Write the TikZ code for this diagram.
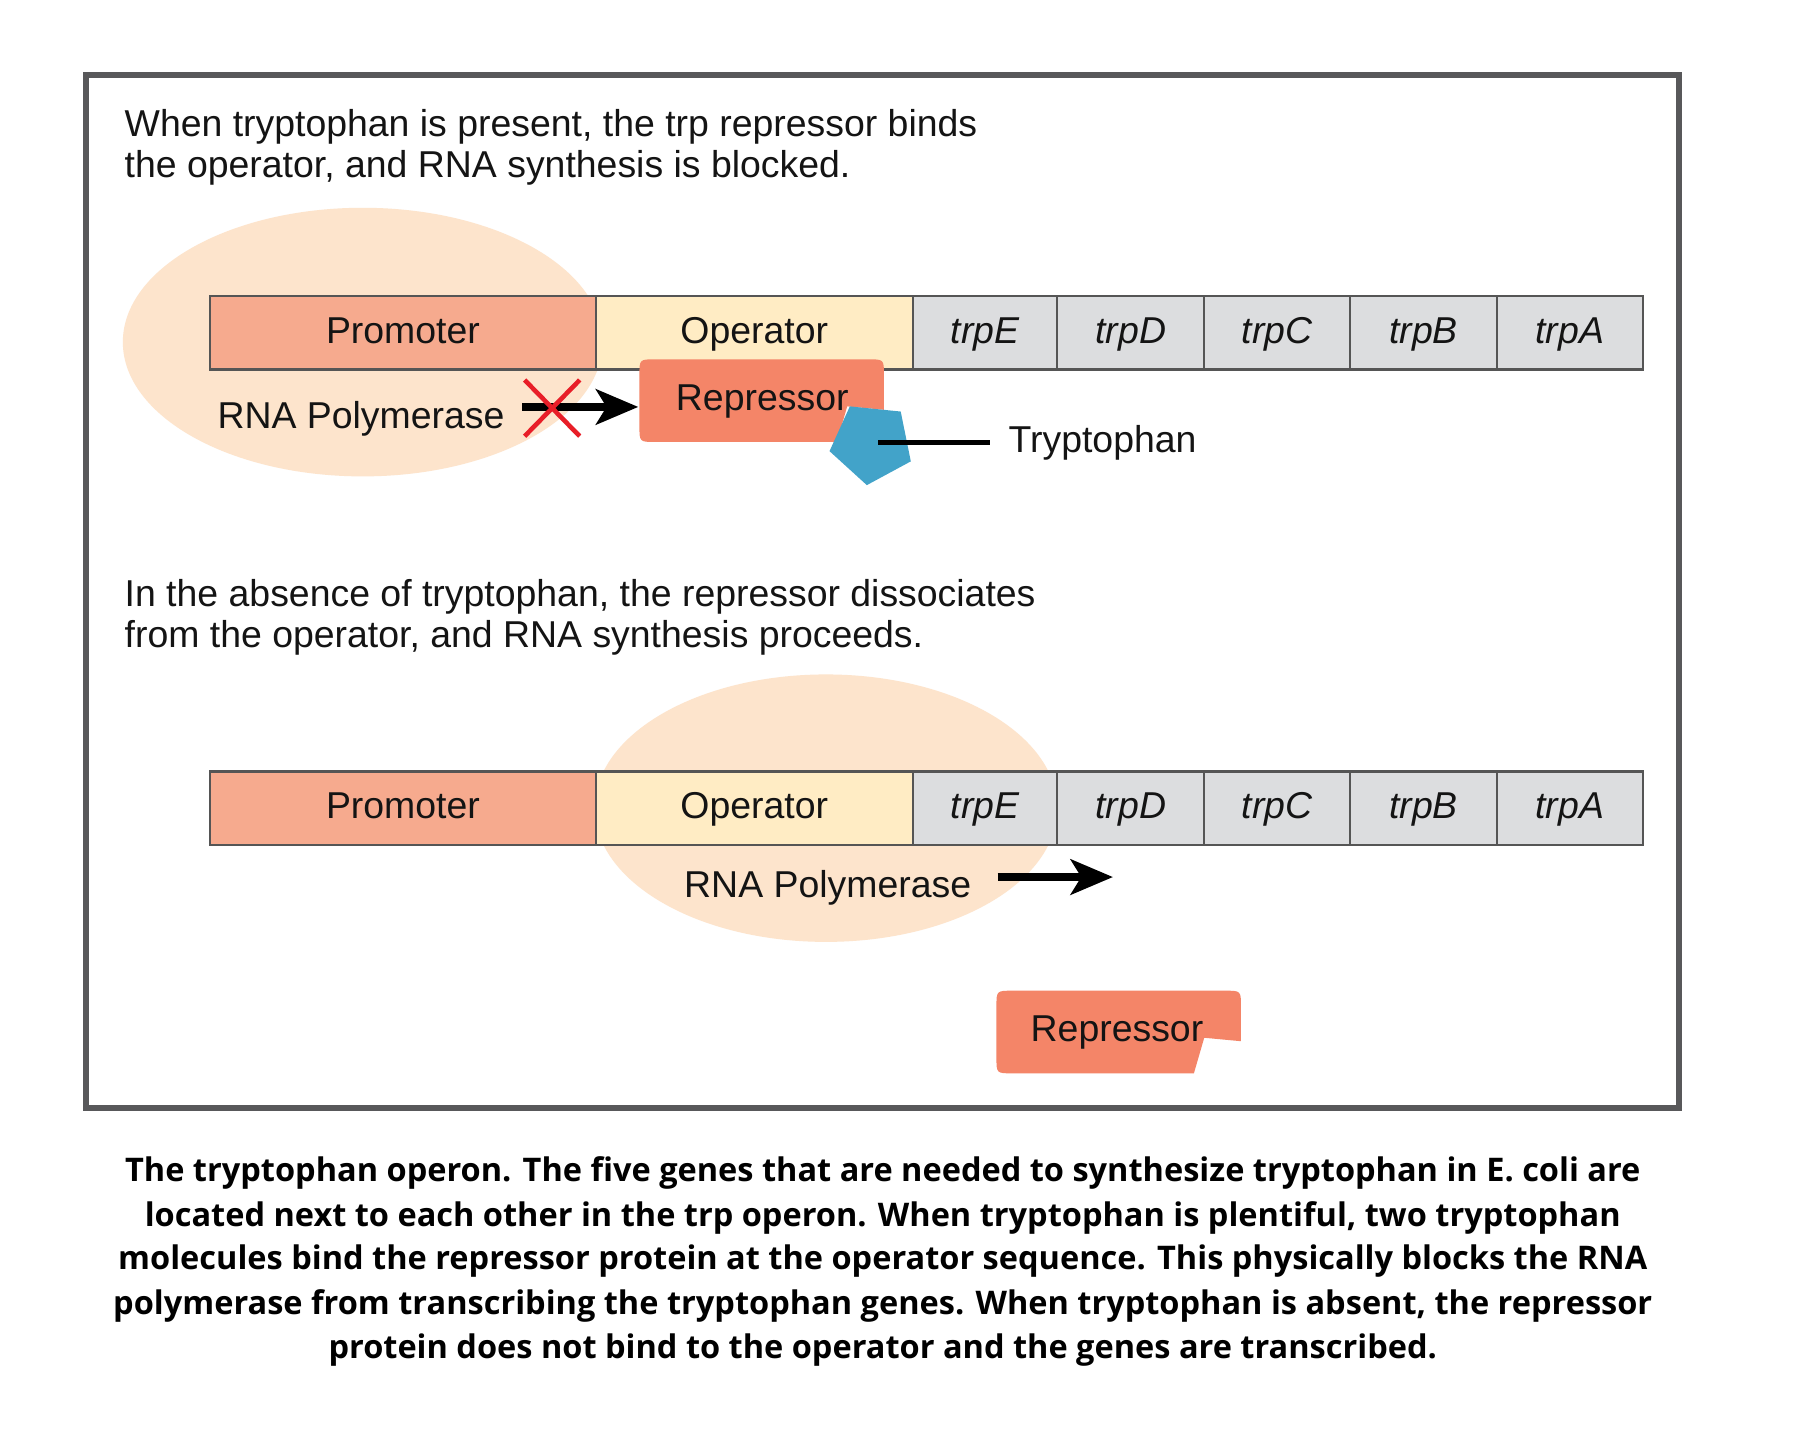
\documentclass[tikz,border=0pt]{standalone}
\usepackage{fontspec}
\setmainfont{Liberation Sans}
\newfontfamily\capfont{Open Sans}
\usetikzlibrary{arrows.meta}
\definecolor{ellcol}{RGB}{253,228,204}
\definecolor{procol}{RGB}{246,170,142}
\definecolor{opcol}{RGB}{255,236,196}
\definecolor{genecol}{RGB}{220,221,223}
\definecolor{repcol}{RGB}{244,133,104}
\definecolor{trpcol}{RGB}{66,163,201}
\definecolor{xred}{RGB}{232,30,40}
\definecolor{framecol}{RGB}{88,88,90}
\definecolor{barline}{RGB}{85,85,85}
\definecolor{txt}{RGB}{20,20,20}
\begin{document}
\begin{tikzpicture}[x=0.01148cm, y=-0.01148cm,
  body/.style={font=\fontsize{10.64pt}{12.5pt}\selectfont, text=txt, inner sep=0pt},
  genelab/.style={body, anchor=base},
  italab/.style={genelab, font=\fontsize{10.64pt}{12.5pt}\selectfont\itshape},
  capline/.style={font=\capfont\bfseries\fontsize{9.25pt}{11pt}\selectfont, text=black, inner sep=0pt, anchor=base},
  boxline/.style={draw=barline, line width=0.65pt},
  parrow/.style={line width=2.3pt, draw=black, -{Stealth[length=12pt, width=10pt, inset=3pt]}},
  repressor/.pic={
    \fill[repcol] (172,72) -- (14,72) .. controls (0,72) .. (0,58) -- (0,14) .. controls (0,0) .. (14,0)
      -- (199,0) .. controls (213,0) .. (213,14) -- (213,44) -- (181,41) -- cycle;
  }
]
\useasboundingbox (0,0) rectangle (1568,1254);
\fill[white] (0,0) rectangle (1568,1254);

% frame
\draw[framecol, line width=1.7pt] (75,65.5) rectangle (1462.5,965.5);

% ---------- top panel ----------
\node[body, anchor=base west] (t1a) at (108,119) {When tryptophan is present, the trp repressor binds};
\node[body, anchor=base west] (t1b) at (108,155) {the operator, and RNA synthesis is blocked.};

\fill[ellcol] (316,298) ellipse [x radius=209, y radius=117];

\filldraw[procol, boxline] (183,258) rectangle (519,322);
\filldraw[opcol, boxline] (519,258) rectangle (795,322);
\filldraw[genecol, boxline] (795,258) rectangle (921,322);
\filldraw[genecol, boxline] (921,258) rectangle (1049,322);
\filldraw[genecol, boxline] (1049,258) rectangle (1176,322);
\filldraw[genecol, boxline] (1176,258) rectangle (1304,322);
\filldraw[genecol, boxline] (1304,258) rectangle (1431,322);

\node[genelab] (pro1) at (351,299) {Promoter};
\node[genelab] (op1) at (657,299) {Operator};
\node[italab] (e1) at (858,299) {trpE};
\node[italab] (d1) at (985,299) {trpD};
\node[italab] (c1) at (1112.5,299) {trpC};
\node[italab] (b1) at (1240,299) {trpB};
\node[italab] (a1) at (1367.5,299) {trpA};

\node[genelab] (pol1) at (314.5,373) {RNA Polymerase};

\pic at (557,313) {repressor};
\node[genelab] (rep1) at (664,357.5) {Repressor};

\fill[trpcol] (740.3,354) -- (784.6,358.5) -- (793.4,401.9) -- (755.1,422.6) -- (722.6,393) -- cycle;
\coordinate (trpdot) at (765,385.5);
\node[body, anchor=base west] (trplab) at (878,394.5) {Tryptophan};
\draw[black, line width=1.4pt] (trpdot) -- (trpdot -| 862,0);

\coordinate (arr1s) at (455,354.5);
\coordinate (arr1e) at (556,354.5);
\draw[parrow] (arr1s) -- (arr1e);
\draw[xred, line width=1.3pt] (457,331) -- (505,380);
\draw[xred, line width=1.3pt] (505,331) -- (457,380);

% ---------- bottom panel ----------
\node[body, anchor=base west] (t2a) at (108,528) {In the absence of tryptophan, the repressor dissociates};
\node[body, anchor=base west] (t2b) at (108,564) {from the operator, and RNA synthesis proceeds.};

\fill[ellcol] (719.5,704) ellipse [x radius=201.5, y radius=116.5];

\filldraw[procol, boxline] (183,672) rectangle (519,736);
\filldraw[opcol, boxline] (519,672) rectangle (795,736);
\filldraw[genecol, boxline] (795,672) rectangle (921,736);
\filldraw[genecol, boxline] (921,672) rectangle (1049,736);
\filldraw[genecol, boxline] (1049,672) rectangle (1176,736);
\filldraw[genecol, boxline] (1176,672) rectangle (1304,736);
\filldraw[genecol, boxline] (1304,672) rectangle (1431,736);

\node[genelab] (pro2) at (351,713) {Promoter};
\node[genelab] (op2) at (657,713) {Operator};
\node[italab] (e2) at (858,713) {trpE};
\node[italab] (d2) at (985,713) {trpD};
\node[italab] (c2) at (1112.5,713) {trpC};
\node[italab] (b2) at (1240,713) {trpB};
\node[italab] (a2) at (1367.5,713) {trpA};

\node[genelab] (pol2) at (721,782) {RNA Polymerase};
\coordinate (arr2s) at (869,764);
\coordinate (arr2e) at (969.5,764);
\draw[parrow] (arr2s) -- (arr2e);

\pic at (868,863) {repressor};
\node[genelab] (rep2) at (973,907.5) {Repressor};

% ---------- caption ----------
\node[capline] (cap1) at (769,1029) {The tryptophan operon. The five genes that are needed to synthesize tryptophan in E. coli are};
\node[capline] (cap2) at (769,1068) {located next to each other in the trp operon. When tryptophan is plentiful, two tryptophan};
\node[capline] (cap3) at (769,1106) {molecules bind the repressor protein at the operator sequence. This physically blocks the RNA};
\node[capline] (cap4) at (769,1145) {polymerase from transcribing the tryptophan genes. When tryptophan is absent, the repressor};
\node[capline] (cap5) at (769,1183) {protein does not bind to the operator and the genes are transcribed.};
\end{tikzpicture}
\end{document}
